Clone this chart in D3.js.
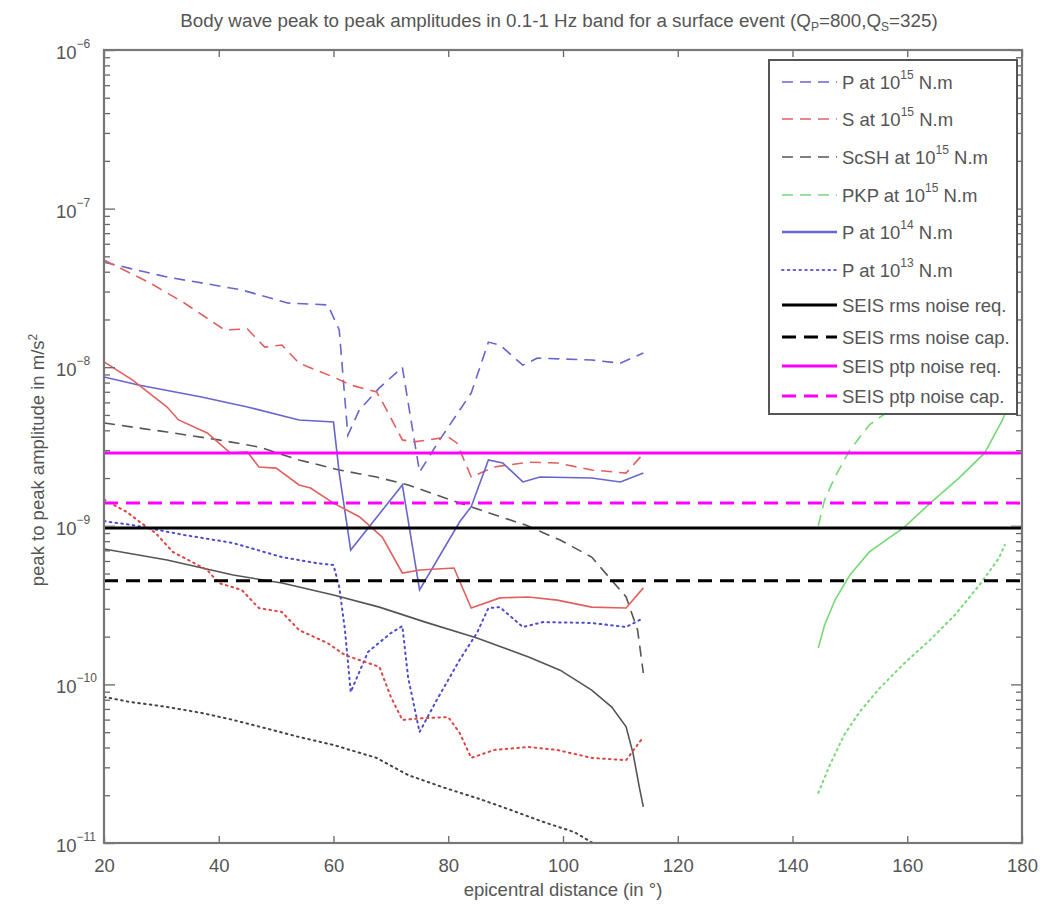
<!DOCTYPE html>
<html><head><meta charset="utf-8">
<script src="https://cdn.jsdelivr.net/npm/d3@7"></script>
<style>
body{margin:0;background:#fff;}
text{font-family:"Liberation Sans",Arial,Helvetica,sans-serif;fill:#555;}
</style></head>
<body><svg id="chart" width="1058" height="905"></svg>
<script>
// ---------- DATA ----------
const xTicks = [20,40,60,80,100,120,140,160,180];
const yDecades = [-11,-10,-9,-8,-7,-6];

// P at 1e15 N.m (blue dashed)
const pDist15 = [20,24.5,31,37,44,52,59,61,62.5,64.5,68,72,75,78.5,84,87,89,93,95.5,105,110,114];
const p15     = [4.6e-8,4.2e-8,3.7e-8,3.4e-8,3.07e-8,2.54e-8,2.47e-8,1.72e-8,3.73e-9,5.37e-9,7.4e-9,1.0e-8,2.18e-9,3.48e-9,6.87e-9,1.44e-8,1.38e-8,1.03e-8,1.14e-8,1.11e-8,1.06e-8,1.23e-8];
// S at 1e15 N.m (red dashed)
const sDist15 = [20,28,34,41,45,48,51,54,60,63,67.5,69,72,74,80,81.5,84,88,94,99,105,111,113.5];
const s15     = [4.74e-8,3.4e-8,2.54e-8,1.72e-8,1.74e-8,1.34e-8,1.38e-8,1.06e-8,8.67e-9,7.72e-9,6.98e-9,5.61e-9,3.48e-9,3.38e-9,3.63e-9,3.33e-9,2.03e-9,2.35e-9,2.52e-9,2.49e-9,2.25e-9,2.15e-9,2.72e-9];
// ScSH at 1e15 N.m (grey dashed)
const scDist15 = [20,31,40,47,54,61,67.5,73,82,93.5,99.5,105,108,111,113,114];
const sc15     = [4.45e-9,3.9e-9,3.48e-9,3.14e-9,2.6e-9,2.25e-9,2.03e-9,1.81e-9,1.39e-9,1.01e-9,8.13e-10,6.35e-10,4.75e-10,3.56e-10,2.2e-10,1.18e-10];
// PKP at 1e15 N.m (green dashed)
const pkpDist15 = [144.5,145.6,147.4,150,153.4,159.5,164,169,173.5,176.6,178];
const pkp15     = [1.0e-9,1.46e-9,2.03e-9,3.01e-9,4.33e-9,6.21e-9,8.55e-9,1.25e-8,1.79e-8,2.8e-8,3.8e-8];

// P at 1e14 N.m (blue solid)
const pDist14 = [20,26,37,45,54,60,61,63,72,75,82,84,87,89.5,93,96,105,110,114];
const p14     = [8.67e-9,7.72e-9,6.49e-9,5.61e-9,4.65e-9,4.51e-9,2.15e-9,7.03e-10,1.81e-9,3.94e-10,1.06e-9,1.32e-9,2.6e-9,2.49e-9,1.89e-9,2.03e-9,2.0e-9,1.89e-9,2.15e-9];
// S at 1e14 N.m (red solid)
const sDist14 = [20,25,31,33,38,42,45,47,50,54,56,60,64.5,68.5,72,75,81,84,89,94,99,105,111,114];
const s14     = [1.08e-8,8.3e-9,5.61e-9,4.65e-9,3.85e-9,2.88e-9,2.92e-9,2.35e-9,2.31e-9,1.81e-9,1.73e-9,1.39e-9,1.14e-9,8.49e-10,5.04e-10,5.26e-10,5.42e-10,3.03e-10,3.51e-10,3.56e-10,3.4e-10,3.07e-10,3.03e-10,4.06e-10];
// ScSH at 1e14 N.m (grey solid)
const scDist14 = [20,31,42.5,51,60,68,76,85,94,99.5,105,108.5,111,112.2,113.3,114];
const sc14     = [7.14e-10,6.08e-10,4.89e-10,4.36e-10,3.66e-10,3.07e-10,2.47e-10,1.96e-10,1.49e-10,1.23e-10,9.2e-11,7.2e-11,5.4e-11,3.69e-11,2.25e-11,1.69e-11];
// PKP at 1e14 N.m (green solid)
const pkpDist14 = [144.5,145.6,147.4,150,153.4,159.5,164,169,173.5,176.6,178];
const pkp14     = [1.7e-10,2.37e-10,3.4e-10,4.89e-10,6.84e-10,9.82e-10,1.39e-9,2.0e-9,2.88e-9,4.65e-9,6.21e-9];

// P at 1e13 N.m (blue dotted)
const pDist13 = [20,25,34,42.5,51,57,60,61,62,63,66,70,72,73,75,78,82,85,87,89,93,96.5,105,111,114];
const p13     = [1.07e-9,1.01e-9,8.75e-10,7.79e-10,6.35e-10,5.82e-10,5.66e-10,4.11e-10,2.2e-10,8.95e-11,1.6e-10,2.11e-10,2.33e-10,1.11e-10,5.01e-11,7.98e-11,1.43e-10,2.11e-10,3.03e-10,3.07e-10,2.3e-10,2.47e-10,2.44e-10,2.3e-10,2.62e-10];
// S at 1e13 N.m (red dotted)
const sDist13 = [20,24,26.5,29,32,34,38,40,44,47,51,54,59,62,68,70,72,76,80,82,84,88,94,99,105,111,114];
const s13     = [1.46e-9,1.22e-9,1.04e-9,9.0e-10,6.84e-10,6.27e-10,5.26e-10,4.36e-10,3.94e-10,3.03e-10,2.86e-10,2.2e-10,1.82e-10,1.53e-10,1.29e-10,8.34e-11,5.97e-11,6.14e-11,6.22e-11,4.94e-11,3.44e-11,3.86e-11,4.03e-11,3.86e-11,3.44e-11,3.33e-11,4.66e-11];
// ScSH at 1e13 N.m (grey dotted)
const scDist13 = [20,24.5,31,37,42.5,48,54,60,67.5,73,79,85,91,96.5,102,105,108];
const sc13     = [8.34e-11,7.75e-11,7.21e-11,6.61e-11,5.97e-11,5.31e-11,4.66e-11,4.15e-11,3.44e-11,2.68e-11,2.25e-11,1.92e-11,1.61e-11,1.36e-11,1.17e-11,1.01e-11,8.4e-12];
// PKP at 1e13 N.m (green dotted)
const pkpDist13 = [144.5,146.5,149,151.7,155.2,159.5,164,168.3,172.6,176,177];
const pkp13     = [2.07e-11,3.1e-11,4.8e-11,6.7e-11,9.48e-11,1.36e-10,1.91e-10,2.74e-10,4.24e-10,6.27e-10,7.57e-10];

// SEIS noise levels
const noiseNames  = ["SEIS rms noise req.","SEIS rms noise cap.","SEIS ptp noise req.","SEIS ptp noise cap."];
const noiseLevels = [9.7e-10,4.5e-10,2.88e-9,1.39e-9];

const legendLabels = [
  ["P at 10","15"," N.m"],["S at 10","15"," N.m"],["ScSH at 10","15"," N.m"],["PKP at 10","15"," N.m"],
  ["P at 10","14"," N.m"],["P at 10","13"," N.m"],
  ["SEIS rms noise req.","",""],["SEIS rms noise cap.","",""],["SEIS ptp noise req.","",""],["SEIS ptp noise cap.","",""]
];

// ---------- STYLES ----------
const BLUE="#6666cc", RED="#e06060", GREY="#555555", GREEN="#77d877", MAG="#ff00ff";
const DASH="11,7", DOT="1.6,4.2", BDASH="14,8";
const FS="18.5px", SUP="12px";

const series = [
  {d:pDist15,v:p15,c:BLUE,dash:DASH,w:1.6},
  {d:sDist15,v:s15,c:RED,dash:DASH,w:1.6},
  {d:scDist15,v:sc15,c:GREY,dash:DASH,w:1.6},
  {d:pkpDist15,v:pkp15,c:GREEN,dash:DASH,w:1.6},
  {d:pDist14,v:p14,c:BLUE,dash:null,w:1.6},
  {d:sDist14,v:s14,c:RED,dash:null,w:1.6},
  {d:scDist14,v:sc14,c:GREY,dash:null,w:1.6},
  {d:pkpDist14,v:pkp14,c:GREEN,dash:null,w:1.6},
  {d:pDist13,v:p13,c:"#4d4dcc",dash:DOT,w:2},
  {d:sDist13,v:s13,c:"#dd4444",dash:DOT,w:2},
  {d:scDist13,v:sc13,c:"#444",dash:DOT,w:2},
  {d:pkpDist13,v:pkp13,c:GREEN,dash:DOT,w:2}
];
const noiseStyles = [
  {c:"#000",dash:null},{c:"#000",dash:BDASH},{c:MAG,dash:null},{c:MAG,dash:BDASH}
];
const legendStyles = [
  {c:BLUE,dash:DASH,w:1.6},{c:RED,dash:DASH,w:1.6},{c:GREY,dash:DASH,w:1.6},{c:GREEN,dash:DASH,w:1.6},
  {c:BLUE,dash:null,w:2.5},{c:BLUE,dash:DOT,w:2},
  {c:"#000",dash:null,w:3},{c:"#000",dash:BDASH,w:3},{c:MAG,dash:null,w:3},{c:MAG,dash:BDASH,w:3}
];

// ---------- LAYOUT ----------
const L=104,R=1022,T=50,B=843;
const svg=d3.select("#chart");
const x=d3.scaleLinear().domain([20,180]).range([L,R]);
const y=d3.scaleLog().domain([1e-11,1e-6]).range([B,T]);

svg.append("defs").append("clipPath").attr("id","clip")
  .append("rect").attr("x",L).attr("y",T).attr("width",R-L).attr("height",B-T);

// title
const title=svg.append("text").attr("x",559).attr("y",27).attr("text-anchor","middle").style("font-size","18.8px");
title.append("tspan").text("Body wave peak to peak amplitudes in 0.1-1 Hz band for a surface event (Q");
title.append("tspan").attr("dy",4).style("font-size",SUP).text("P");
title.append("tspan").attr("dy",-4).text("=800,Q");
title.append("tspan").attr("dy",4).style("font-size",SUP).text("S");
title.append("tspan").attr("dy",-4).text("=325)");

// data
const plot=svg.append("g").attr("clip-path","url(#clip)");
const line=d3.line().x(p=>x(p[0])).y(p=>y(p[1]));
series.forEach(s=>{
  plot.append("path").datum(d3.zip(s.d,s.v)).attr("d",line)
    .attr("fill","none").attr("stroke",s.c).attr("stroke-width",s.w)
    .attr("stroke-dasharray",s.dash).attr("stroke-linecap",s.dash===DOT?"round":"butt");
});
noiseLevels.forEach((lv,i)=>{
  plot.append("line").attr("x1",x(20)).attr("x2",x(180)).attr("y1",y(lv)).attr("y2",y(lv))
    .attr("stroke",noiseStyles[i].c).attr("stroke-width",3).attr("stroke-dasharray",noiseStyles[i].dash);
});

// axes
const minors=[];
for(let e=-11;e<-6;e++) for(let m=2;m<=9;m++) minors.push(m*Math.pow(10,e));
const majors=yDecades.map(e=>Math.pow(10,e));
function styleAxis(g){g.select(".domain").remove();g.selectAll("line").attr("stroke","#666").attr("stroke-width",1.3);}
svg.append("g").attr("transform",`translate(${L},0)`).call(d3.axisLeft(y).tickValues(minors).tickSize(-6).tickFormat("")).call(styleAxis);
svg.append("g").attr("transform",`translate(${L},0)`).call(d3.axisLeft(y).tickValues(majors).tickSize(-11).tickFormat("")).call(styleAxis);
svg.append("g").attr("transform",`translate(${R},0)`).call(d3.axisRight(y).tickValues(minors).tickSize(-6).tickFormat("")).call(styleAxis);
svg.append("g").attr("transform",`translate(${R},0)`).call(d3.axisRight(y).tickValues(majors).tickSize(-11).tickFormat("")).call(styleAxis);
const xb=svg.append("g").attr("transform",`translate(0,${B})`)
  .call(d3.axisBottom(x).tickValues(xTicks).tickSize(-7).tickPadding(16).tickFormat(d3.format("d")));
xb.call(styleAxis);
xb.selectAll("text").style("font-size",FS).style("fill","#555").attr("font-family",null);
svg.append("g").attr("transform",`translate(0,${T})`).call(d3.axisTop(x).tickValues(xTicks).tickSize(-7).tickFormat("")).call(styleAxis);

// y tick labels 10^e
yDecades.forEach(e=>{
  const t=svg.append("text").attr("x",56).attr("y",y(Math.pow(10,e))+9).style("font-size",FS);
  t.append("tspan").text("10");
  t.append("tspan").attr("dy",-11).style("font-size",SUP).text("\u2212"+(-e));
});

// frame
svg.append("rect").attr("x",L).attr("y",T).attr("width",R-L).attr("height",B-T)
  .attr("fill","none").attr("stroke","#777").attr("stroke-width",2.2);

// axis labels
svg.append("text").attr("x",563).attr("y",896).attr("text-anchor","middle").style("font-size",FS)
  .text("epicentral distance (in \u00b0)");
const yl=svg.append("text").attr("transform","translate(44,460) rotate(-90)").attr("text-anchor","middle").style("font-size",FS);
yl.append("tspan").text("peak to peak amplitude in m/s");
yl.append("tspan").attr("dy",-7).style("font-size",SUP).text("2");

// legend
const lg=svg.append("g");
lg.append("rect").attr("x",769).attr("y",60).attr("width",248).attr("height",354)
  .attr("fill","#fff").attr("stroke","#555").attr("stroke-width",2);
const rowY=[82,119,157,195,232,270,305,337,366,396];
legendLabels.forEach((lab,i)=>{
  const st=legendStyles[i];
  lg.append("line").attr("x1",782).attr("x2",837).attr("y1",rowY[i]).attr("y2",rowY[i])
    .attr("stroke",st.c).attr("stroke-width",st.w).attr("stroke-dasharray",st.dash)
    .attr("stroke-linecap",st.dash===DOT?"round":"butt");
  const t=lg.append("text").attr("x",842).attr("y",rowY[i]+7).style("font-size",FS);
  t.append("tspan").text(lab[0]);
  if(lab[1]){
    t.append("tspan").attr("dy",-10).style("font-size",SUP).text(lab[1]);
    t.append("tspan").attr("dy",10).text(lab[2]);
  }
});
</script></body></html>
